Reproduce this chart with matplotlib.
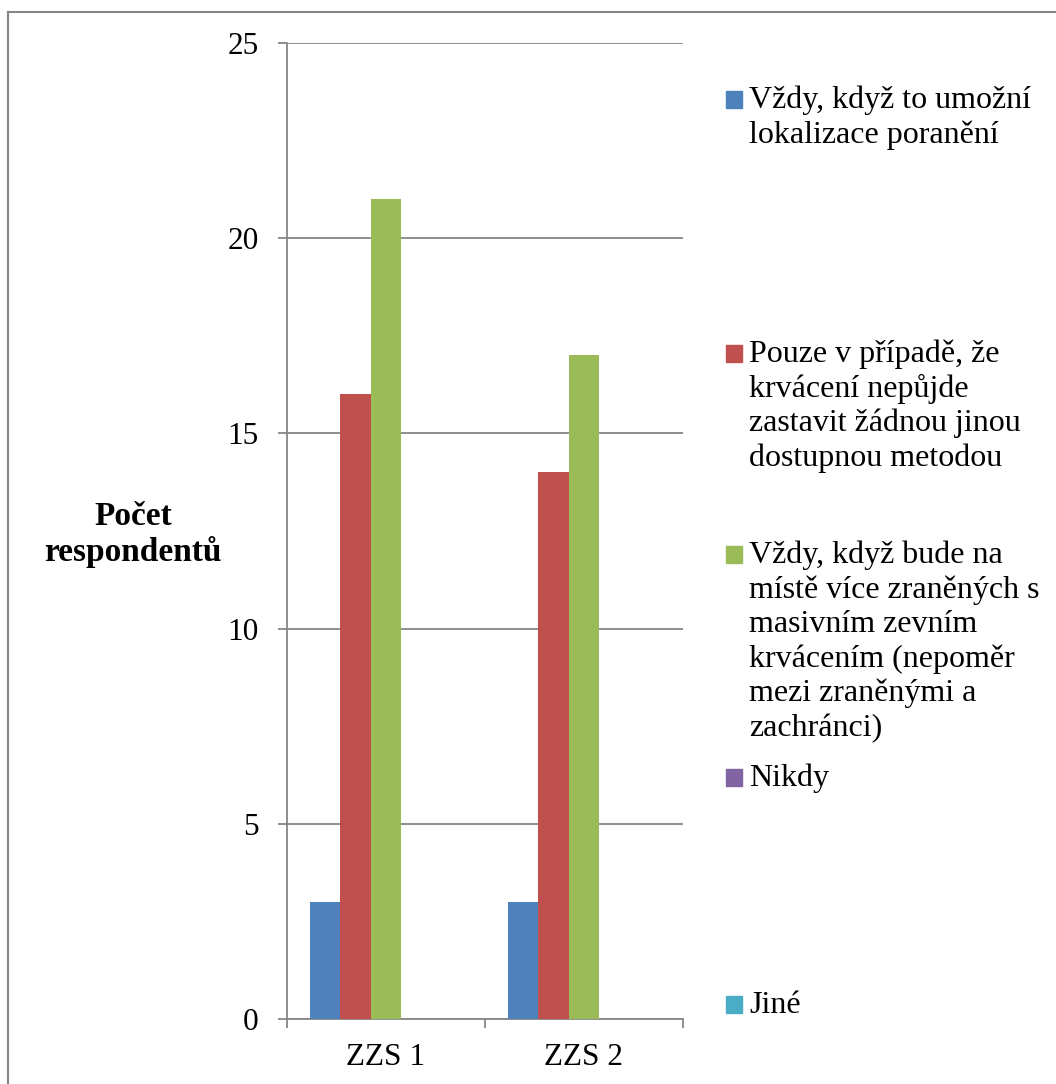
import numpy as np
import matplotlib.pyplot as plt
from matplotlib.lines import Line2D
from matplotlib.patches import Rectangle

plt.rcParams['font.family'] = ['Liberation Serif', 'DejaVu Serif']

categories = ['ZZS 1', 'ZZS 2']
series = [
    'Vždy, když to umožní\nlokalizace poranění',
    'Pouze v případě, že\nkrvácení nepůjde\nzastavit žádnou jinou\ndostupnou metodou',
    'Vždy, když bude na\nmístě více zraněných s\nmasivním zevním\nkrvácením (nepoměr\nmezi zraněnými a\nzachránci)',
    'Nikdy',
    'Jiné',
]
values = [
    [3, 3],
    [16, 14],
    [21, 17],
    [0, 0],
    [0, 0],
]
colors = ['#4F81BD', '#C0504D', '#9BBB59', '#8064A2', '#4BACC6']
yticks = [0, 5, 10, 15, 20, 25]

W, H = 1056, 1084
fig = plt.figure(figsize=(W / 100, H / 100), dpi=100)
ax = fig.add_axes([287 / W, 1 - 1019 / H, 396 / W, 976 / H])

grey = '#868686'
x = np.arange(len(categories))
bw = 0.154
for i, (vals, c) in enumerate(zip(values, colors)):
    ax.bar(x + (i - 2) * bw, vals, bw, color=c, zorder=3)

ax.set_xlim(-0.5, 1.5)
ax.set_ylim(0, 25)
ax.set_yticks(yticks)
ax.yaxis.grid(True, color=grey, linewidth=1.3, zorder=0)
for s in ['top', 'right']:
    ax.spines[s].set_visible(False)
for s in ['left', 'bottom']:
    ax.spines[s].set_color(grey)
    ax.spines[s].set_linewidth(1.3)
ax.tick_params(axis='y', direction='out', length=6.5, width=1.3, color=grey,
               labelsize=22.5, pad=14)
ax.set_xticks(x)
ax.set_xticklabels(categories)
ax.set_xticks([-0.5, 0.5, 1.5], minor=True)
ax.tick_params(axis='x', which='major', length=0, labelsize=22.5, pad=17)
ax.tick_params(axis='x', which='minor', direction='out', length=6.5, width=1.3, color=grey)
ax.set_axisbelow(True)

# y label, horizontal to the left of the axis
fig.text(133 / W, 1 - 525 / H, 'Počet', ha='center', va='baseline',
         fontsize=24, fontweight='bold')
fig.text(133 / W, 1 - 561 / H, 'respondentů', ha='center', va='baseline',
         fontsize=24, fontweight='bold')

# legend, spread out the way Excel does it (baseline of first line)
legend_base = [108, 362, 563, 786, 1013]
for lab, c, yb in zip(series, colors, legend_base):
    fig.add_artist(Rectangle((726 / W, 1 - yb / H), 16 / W, 17 / H,
                             transform=fig.transFigure, color=c))
    for k, line in enumerate(lab.split('\n')):
        fig.text(749 / W, 1 - (yb + 34.6 * k) / H, line, ha='left',
                 va='baseline', fontsize=23)

# outer chart border
fig.add_artist(Line2D([8 / W, 8 / W], [0, 1 - 12 / H], color=grey, linewidth=1.5,
                      transform=fig.transFigure))
fig.add_artist(Line2D([8 / W, 1], [1 - 12 / H, 1 - 12 / H], color=grey, linewidth=1.5,
                      transform=fig.transFigure))

fig.savefig('out.png', dpi=100)
